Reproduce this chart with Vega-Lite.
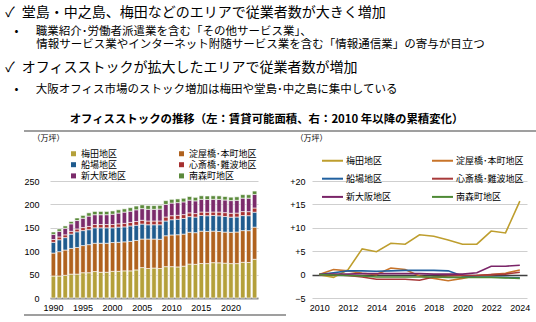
{
  "$schema": "https://vega.github.io/schema/vega-lite/v6.json",
  "background": "white",
  "padding": {"left": 5, "top": 5, "right": 0, "bottom": 0},
  "config": {
    "view": {"stroke": null},
    "font": "Noto Sans CJK JP",
    "axis": {"labelFont": "Liberation Sans", "labelFontSize": 9, "labelColor": "#000", "ticks": false, "domain": false, "gridColor": "#CFCFCF", "gridWidth": 1, "titleFont": "Noto Sans CJK JP", "titleColor": "#000"},
    "legend": {"labelFont": "Noto Sans CJK JP", "labelFontSize": 9, "labelColor": "#000", "padding": 0, "title": null},
    "title": {"font": "Noto Sans CJK JP", "color": "#000", "subtitleFont": "Noto Sans CJK JP", "subtitleColor": "#000", "fontWeight": "normal"}
  },
  "datasets": {
    "areas": [
      {"area":"梅田地区","rank":1},{"area":"淀屋橋･本町地区","rank":2},{"area":"船場地区","rank":3},{"area":"心斎橋･難波地区","rank":4},{"area":"新大阪地区","rank":5},{"area":"南森町地区","rank":6}
    ],
    "stock": [
      {"year":1990,"area":"梅田地区","value":47},{"year":1990,"area":"淀屋橋･本町地区","value":49},{"year":1990,"area":"船場地区","value":23},{"year":1990,"area":"心斎橋･難波地区","value":6},{"year":1990,"area":"新大阪地区","value":11},{"year":1990,"area":"南森町地区","value":5},
      {"year":1991,"area":"梅田地区","value":47},{"year":1991,"area":"淀屋橋･本町地区","value":52},{"year":1991,"area":"船場地区","value":25.5},{"year":1991,"area":"心斎橋･難波地区","value":6},{"year":1991,"area":"新大阪地区","value":12},{"year":1991,"area":"南森町地区","value":5},
      {"year":1992,"area":"梅田地区","value":48.5},{"year":1992,"area":"淀屋橋･本町地区","value":54},{"year":1992,"area":"船場地区","value":26.5},{"year":1992,"area":"心斎橋･難波地区","value":6},{"year":1992,"area":"新大阪地区","value":14},{"year":1992,"area":"南森町地区","value":5},
      {"year":1993,"area":"梅田地区","value":51},{"year":1993,"area":"淀屋橋･本町地区","value":55},{"year":1993,"area":"船場地区","value":30.5},{"year":1993,"area":"心斎橋･難波地区","value":6},{"year":1993,"area":"新大阪地区","value":16},{"year":1993,"area":"南森町地区","value":5},
      {"year":1994,"area":"梅田地区","value":51},{"year":1994,"area":"淀屋橋･本町地区","value":57},{"year":1994,"area":"船場地区","value":33.5},{"year":1994,"area":"心斎橋･難波地区","value":6},{"year":1994,"area":"新大阪地区","value":18},{"year":1994,"area":"南森町地区","value":5.5},
      {"year":1995,"area":"梅田地区","value":54},{"year":1995,"area":"淀屋橋･本町地区","value":58},{"year":1995,"area":"船場地区","value":32},{"year":1995,"area":"心斎橋･難波地区","value":6.5},{"year":1995,"area":"新大阪地区","value":20},{"year":1995,"area":"南森町地区","value":6},
      {"year":1996,"area":"梅田地区","value":54},{"year":1996,"area":"淀屋橋･本町地区","value":60},{"year":1996,"area":"船場地区","value":32},{"year":1996,"area":"心斎橋･難波地区","value":7},{"year":1996,"area":"新大阪地区","value":22},{"year":1996,"area":"南森町地区","value":7},
      {"year":1997,"area":"梅田地区","value":56.5},{"year":1997,"area":"淀屋橋･本町地区","value":60.5},{"year":1997,"area":"船場地区","value":33},{"year":1997,"area":"心斎橋･難波地区","value":7},{"year":1997,"area":"新大阪地区","value":21},{"year":1997,"area":"南森町地区","value":7},
      {"year":1998,"area":"梅田地区","value":55},{"year":1998,"area":"淀屋橋･本町地区","value":62},{"year":1998,"area":"船場地区","value":33},{"year":1998,"area":"心斎橋･難波地区","value":7},{"year":1998,"area":"新大阪地区","value":21},{"year":1998,"area":"南森町地区","value":7},
      {"year":1999,"area":"梅田地区","value":55},{"year":1999,"area":"淀屋橋･本町地区","value":62},{"year":1999,"area":"船場地区","value":33},{"year":1999,"area":"心斎橋･難波地区","value":7},{"year":1999,"area":"新大阪地区","value":21},{"year":1999,"area":"南森町地区","value":7},
      {"year":2000,"area":"梅田地区","value":57},{"year":2000,"area":"淀屋橋･本町地区","value":61.5},{"year":2000,"area":"船場地区","value":31.5},{"year":2000,"area":"心斎橋･難波地区","value":7},{"year":2000,"area":"新大阪地区","value":22},{"year":2000,"area":"南森町地区","value":7},
      {"year":2001,"area":"梅田地区","value":57},{"year":2001,"area":"淀屋橋･本町地区","value":62},{"year":2001,"area":"船場地区","value":32.5},{"year":2001,"area":"心斎橋･難波地区","value":7},{"year":2001,"area":"新大阪地区","value":23},{"year":2001,"area":"南森町地区","value":7},
      {"year":2002,"area":"梅田地区","value":58},{"year":2002,"area":"淀屋橋･本町地区","value":62},{"year":2002,"area":"船場地区","value":32},{"year":2002,"area":"心斎橋･難波地区","value":7.5},{"year":2002,"area":"新大阪地区","value":24},{"year":2002,"area":"南森町地区","value":7},
      {"year":2003,"area":"梅田地区","value":58},{"year":2003,"area":"淀屋橋･本町地区","value":63},{"year":2003,"area":"船場地区","value":33},{"year":2003,"area":"心斎橋･難波地区","value":7.5},{"year":2003,"area":"新大阪地区","value":24},{"year":2003,"area":"南森町地区","value":7.5},
      {"year":2004,"area":"梅田地区","value":60},{"year":2004,"area":"淀屋橋･本町地区","value":63},{"year":2004,"area":"船場地区","value":32.5},{"year":2004,"area":"心斎橋･難波地区","value":8},{"year":2004,"area":"新大阪地区","value":25},{"year":2004,"area":"南森町地区","value":8},
      {"year":2005,"area":"梅田地区","value":65},{"year":2005,"area":"淀屋橋･本町地区","value":61},{"year":2005,"area":"船場地区","value":32},{"year":2005,"area":"心斎橋･難波地区","value":8},{"year":2005,"area":"新大阪地区","value":25},{"year":2005,"area":"南森町地区","value":8},
      {"year":2006,"area":"梅田地区","value":63},{"year":2006,"area":"淀屋橋･本町地区","value":63},{"year":2006,"area":"船場地区","value":30.5},{"year":2006,"area":"心斎橋･難波地区","value":8},{"year":2006,"area":"新大阪地区","value":25},{"year":2006,"area":"南森町地区","value":8},
      {"year":2007,"area":"梅田地区","value":64},{"year":2007,"area":"淀屋橋･本町地区","value":62},{"year":2007,"area":"船場地区","value":30.5},{"year":2007,"area":"心斎橋･難波地区","value":8},{"year":2007,"area":"新大阪地区","value":25},{"year":2007,"area":"南森町地区","value":8},
      {"year":2008,"area":"梅田地区","value":63},{"year":2008,"area":"淀屋橋･本町地区","value":62.5},{"year":2008,"area":"船場地区","value":31},{"year":2008,"area":"心斎橋･難波地区","value":8},{"year":2008,"area":"新大阪地区","value":25.5},{"year":2008,"area":"南森町地区","value":8},
      {"year":2009,"area":"梅田地区","value":67},{"year":2009,"area":"淀屋橋･本町地区","value":66},{"year":2009,"area":"船場地区","value":31.5},{"year":2009,"area":"心斎橋･難波地区","value":8.5},{"year":2009,"area":"新大阪地区","value":27},{"year":2009,"area":"南森町地区","value":8},
      {"year":2010,"area":"梅田地区","value":67},{"year":2010,"area":"淀屋橋･本町地区","value":67.7},{"year":2010,"area":"船場地区","value":32.6},{"year":2010,"area":"心斎橋･難波地区","value":8.5},{"year":2010,"area":"新大阪地区","value":27},{"year":2010,"area":"南森町地区","value":8},
      {"year":2011,"area":"梅田地区","value":66.4},{"year":2011,"area":"淀屋橋･本町地区","value":68.8},{"year":2011,"area":"船場地区","value":33},{"year":2011,"area":"心斎橋･難波地区","value":8.5},{"year":2011,"area":"新大阪地区","value":27.1},{"year":2011,"area":"南森町地区","value":7.9},
      {"year":2012,"area":"梅田地区","value":68},{"year":2012,"area":"淀屋橋･本町地区","value":68.5},{"year":2012,"area":"船場地区","value":33.4},{"year":2012,"area":"心斎橋･難波地区","value":8.3},{"year":2012,"area":"新大阪地区","value":27.1},{"year":2012,"area":"南森町地区","value":7.8},
      {"year":2013,"area":"梅田地区","value":72.5},{"year":2013,"area":"淀屋橋･本町地区","value":68},{"year":2013,"area":"船場地区","value":33.4},{"year":2013,"area":"心斎橋･難波地区","value":8},{"year":2013,"area":"新大阪地区","value":27.2},{"year":2013,"area":"南森町地区","value":7.7},
      {"year":2014,"area":"梅田地区","value":71.9},{"year":2014,"area":"淀屋橋･本町地区","value":67.7},{"year":2014,"area":"船場地区","value":33.3},{"year":2014,"area":"心斎橋･難波地区","value":7.5},{"year":2014,"area":"新大阪地区","value":27.2},{"year":2014,"area":"南森町地区","value":7.5},
      {"year":2015,"area":"梅田地区","value":73.7},{"year":2015,"area":"淀屋橋･本町地区","value":69.1},{"year":2015,"area":"船場地区","value":33.4},{"year":2015,"area":"心斎橋･難波地区","value":7.5},{"year":2015,"area":"新大阪地区","value":27.2},{"year":2015,"area":"南森町地区","value":7.5},
      {"year":2016,"area":"梅田地区","value":73.5},{"year":2016,"area":"淀屋橋･本町地区","value":68.8},{"year":2016,"area":"船場地区","value":33.5},{"year":2016,"area":"心斎橋･難波地区","value":7.5},{"year":2016,"area":"新大阪地区","value":27.2},{"year":2016,"area":"南森町地区","value":7.5},
      {"year":2017,"area":"梅田地区","value":75.5},{"year":2017,"area":"淀屋橋･本町地区","value":67.4},{"year":2017,"area":"船場地区","value":33.5},{"year":2017,"area":"心斎橋･難波地区","value":7.3},{"year":2017,"area":"新大阪地区","value":27.2},{"year":2017,"area":"南森町地区","value":7.5},
      {"year":2018,"area":"梅田地区","value":75.2},{"year":2018,"area":"淀屋橋･本町地区","value":66.9},{"year":2018,"area":"船場地区","value":33.5},{"year":2018,"area":"心斎橋･難波地区","value":8},{"year":2018,"area":"新大阪地区","value":27.1},{"year":2018,"area":"南森町地区","value":7.5},
      {"year":2019,"area":"梅田地区","value":74.4},{"year":2019,"area":"淀屋橋･本町地区","value":66.4},{"year":2019,"area":"船場地区","value":33.4},{"year":2019,"area":"心斎橋･難波地区","value":8.2},{"year":2019,"area":"新大阪地区","value":27.1},{"year":2019,"area":"南森町地区","value":7.4},
      {"year":2020,"area":"梅田地区","value":73.5},{"year":2020,"area":"淀屋橋･本町地区","value":66.9},{"year":2020,"area":"船場地区","value":32.3},{"year":2020,"area":"心斎橋･難波地区","value":8.3},{"year":2020,"area":"新大阪地区","value":27.1},{"year":2020,"area":"南森町地区","value":7.4},
      {"year":2021,"area":"梅田地区","value":73.5},{"year":2021,"area":"淀屋橋･本町地区","value":67.5},{"year":2021,"area":"船場地区","value":32.1},{"year":2021,"area":"心斎橋･難波地区","value":8.3},{"year":2021,"area":"新大阪地区","value":27.4},{"year":2021,"area":"南森町地区","value":7.4},
      {"year":2022,"area":"梅田地区","value":76.3},{"year":2022,"area":"淀屋橋･本町地区","value":67.7},{"year":2022,"area":"船場地区","value":32.1},{"year":2022,"area":"心斎橋･難波地区","value":8.5},{"year":2022,"area":"新大阪地区","value":28.8},{"year":2022,"area":"南森町地区","value":7.4},
      {"year":2023,"area":"梅田地区","value":75.9},{"year":2023,"area":"淀屋橋･本町地区","value":68},{"year":2023,"area":"船場地区","value":32},{"year":2023,"area":"心斎橋･難波地区","value":8.6},{"year":2023,"area":"新大阪地区","value":28.8},{"year":2023,"area":"南森町地区","value":7.3},
      {"year":2024,"area":"梅田地区","value":82.7},{"year":2024,"area":"淀屋橋･本町地区","value":68.7},{"year":2024,"area":"船場地区","value":31.9},{"year":2024,"area":"心斎橋･難波地区","value":9},{"year":2024,"area":"新大阪地区","value":29},{"year":2024,"area":"南森町地区","value":7.2}
    ],
    "change": [
      {"year":2010,"area":"梅田地区","change":0},{"year":2010,"area":"淀屋橋･本町地区","change":0},{"year":2010,"area":"船場地区","change":0},{"year":2010,"area":"心斎橋･難波地区","change":0},{"year":2010,"area":"新大阪地区","change":0},{"year":2010,"area":"南森町地区","change":0},
      {"year":2011,"area":"梅田地区","change":-0.6},{"year":2011,"area":"淀屋橋･本町地区","change":1.1},{"year":2011,"area":"船場地区","change":0.4},{"year":2011,"area":"心斎橋･難波地区","change":0},{"year":2011,"area":"新大阪地区","change":0.1},{"year":2011,"area":"南森町地区","change":-0.1},
      {"year":2012,"area":"梅田地区","change":1},{"year":2012,"area":"淀屋橋･本町地区","change":0.8},{"year":2012,"area":"船場地区","change":0.8},{"year":2012,"area":"心斎橋･難波地区","change":-0.2},{"year":2012,"area":"新大阪地区","change":0.1},{"year":2012,"area":"南森町地区","change":-0.2},
      {"year":2013,"area":"梅田地区","change":5.5},{"year":2013,"area":"淀屋橋･本町地区","change":0.3},{"year":2013,"area":"船場地区","change":0.8},{"year":2013,"area":"心斎橋･難波地区","change":-0.5},{"year":2013,"area":"新大阪地区","change":0.2},{"year":2013,"area":"南森町地区","change":-0.3},
      {"year":2014,"area":"梅田地区","change":4.9},{"year":2014,"area":"淀屋橋･本町地区","change":0},{"year":2014,"area":"船場地区","change":0.7},{"year":2014,"area":"心斎橋･難波地区","change":-1},{"year":2014,"area":"新大阪地区","change":0.2},{"year":2014,"area":"南森町地区","change":-0.5},
      {"year":2015,"area":"梅田地区","change":6.7},{"year":2015,"area":"淀屋橋･本町地区","change":1.4},{"year":2015,"area":"船場地区","change":0.8},{"year":2015,"area":"心斎橋･難波地区","change":-1},{"year":2015,"area":"新大阪地区","change":0.2},{"year":2015,"area":"南森町地区","change":-0.5},
      {"year":2016,"area":"梅田地区","change":6.5},{"year":2016,"area":"淀屋橋･本町地区","change":1.1},{"year":2016,"area":"船場地区","change":0.9},{"year":2016,"area":"心斎橋･難波地区","change":-1},{"year":2016,"area":"新大阪地区","change":0.2},{"year":2016,"area":"南森町地区","change":-0.5},
      {"year":2017,"area":"梅田地区","change":8.5},{"year":2017,"area":"淀屋橋･本町地区","change":-0.3},{"year":2017,"area":"船場地区","change":0.9},{"year":2017,"area":"心斎橋･難波地区","change":-1.2},{"year":2017,"area":"新大阪地区","change":0.2},{"year":2017,"area":"南森町地区","change":-0.5},
      {"year":2018,"area":"梅田地区","change":8.2},{"year":2018,"area":"淀屋橋･本町地区","change":-0.8},{"year":2018,"area":"船場地区","change":0.9},{"year":2018,"area":"心斎橋･難波地区","change":-0.5},{"year":2018,"area":"新大阪地区","change":0.1},{"year":2018,"area":"南森町地区","change":-0.5},
      {"year":2019,"area":"梅田地区","change":7.4},{"year":2019,"area":"淀屋橋･本町地区","change":-1.3},{"year":2019,"area":"船場地区","change":0.8},{"year":2019,"area":"心斎橋･難波地区","change":-0.3},{"year":2019,"area":"新大阪地区","change":0.1},{"year":2019,"area":"南森町地区","change":-0.6},
      {"year":2020,"area":"梅田地区","change":6.5},{"year":2020,"area":"淀屋橋･本町地区","change":-0.8},{"year":2020,"area":"船場地区","change":-0.3},{"year":2020,"area":"心斎橋･難波地区","change":-0.2},{"year":2020,"area":"新大阪地区","change":0.1},{"year":2020,"area":"南森町地区","change":-0.6},
      {"year":2021,"area":"梅田地区","change":6.5},{"year":2021,"area":"淀屋橋･本町地区","change":-0.2},{"year":2021,"area":"船場地区","change":-0.5},{"year":2021,"area":"心斎橋･難波地区","change":-0.2},{"year":2021,"area":"新大阪地区","change":0.4},{"year":2021,"area":"南森町地区","change":-0.6},
      {"year":2022,"area":"梅田地区","change":9.3},{"year":2022,"area":"淀屋橋･本町地区","change":0},{"year":2022,"area":"船場地区","change":-0.5},{"year":2022,"area":"心斎橋･難波地区","change":0},{"year":2022,"area":"新大阪地区","change":1.8},{"year":2022,"area":"南森町地区","change":-0.6},
      {"year":2023,"area":"梅田地区","change":8.9},{"year":2023,"area":"淀屋橋･本町地区","change":0.3},{"year":2023,"area":"船場地区","change":-0.6},{"year":2023,"area":"心斎橋･難波地区","change":0.1},{"year":2023,"area":"新大阪地区","change":1.8},{"year":2023,"area":"南森町地区","change":-0.7},
      {"year":2024,"area":"梅田地区","change":15.7},{"year":2024,"area":"淀屋橋･本町地区","change":1},{"year":2024,"area":"船場地区","change":-0.7},{"year":2024,"area":"心斎橋･難波地区","change":0.5},{"year":2024,"area":"新大阪地区","change":2},{"year":2024,"area":"南森町地区","change":-0.8}
    ]
  },
  "title": {
    "text": "✓\u2002堂島・中之島、梅田などのエリアで従業者数が大きく増加",
    "subtitle": ["\u200b\u2002\u2005\u200a•\u2002\u2002\u2002職業紹介･労働者派遣業を含む「その他サービス業」、", "\u200b\u3000\u3000\u2002\u2009情報サービス業やインターネット附随サービス業を含む「情報通信業」の寄与が目立つ"],
    "anchor": "start", "frame": "bounds", "fontSize": 14, "subtitleFontSize": 11.5, "subtitlePadding": 6, "subtitleLineHeight": 13, "offset": 11
  },
  "spacing": 2,
  "vconcat": [
    {
      "title": {
        "text": "✓\u2002オフィスストックが拡大したエリアで従業者数が増加",
        "subtitle": "\u200b\u2002\u2005\u200a•\u2002\u2002\u2002大阪オフィス市場のストック増加は梅田や堂島･中之島に集中している",
        "anchor": "start", "frame": "bounds", "fontSize": 14, "subtitleFontSize": 11.5, "subtitlePadding": 9, "offset": 18, "dx": -18
      },
      "spacing": 2,
      "vconcat": [
        {
          "width": 487, "height": 1,
          "title": {"text": "オフィスストックの推移（左：賃貸可能面積、右：2010 年以降の累積変化）", "anchor": "middle", "frame": "group", "fontSize": 11.4, "fontWeight": "bold", "offset": 5, "dx": -27},
          "data": {"values": [{}]},
          "mark": {"type": "rule", "color": "#7F7F7F", "strokeWidth": 1.5},
          "encoding": {
            "x": {"datum": -0.0534, "type": "quantitative", "scale": {"domain": [0, 1], "nice": false, "zero": false}, "axis": null},
            "x2": {"datum": 1},
            "y": {"datum": 0, "type": "quantitative", "scale": {"domain": [0, 1]}, "axis": null}
          }
        },
        {
          "spacing": 31,
          "resolve": {"scale": {"color": "independent"}, "legend": {"color": "independent"}},
          "hconcat": [
            {
              "width": 208, "height": 117,
              "data": {"name": "stock"},
              "transform": [{"lookup": "area", "from": {"data": {"name": "areas"}, "key": "area", "fields": ["rank"]}}],
              "mark": {"type": "bar", "stroke": "#FFFFFF", "strokeWidth": 0.6},
              "encoding": {
                "x": {"field": "year", "type": "ordinal", "scale": {"paddingInner": 0.25, "paddingOuter": 0.2}, "axis": {"values": [1990,1995,2000,2005,2010,2015,2020], "labelAngle": 0, "title": null, "domain": true, "domainColor": "#8C8C8C", "domainWidth": 2, "labelPadding": 5}},
                "y": {"field": "value", "type": "quantitative", "stack": "zero", "scale": {"domain": [0, 250], "nice": false}, "axis": {"values": [0,50,100,150,200,250], "grid": true, "labelPadding": 11, "title": "（万坪）", "titleAngle": 0, "titleAlign": "left", "titleBaseline": "middle", "titleX": -18, "titleY": -43, "titleFontSize": 8, "titleFontWeight": "normal"}},
                "order": {"field": "rank", "type": "quantitative", "sort": "ascending"},
                "color": {"field": "area", "type": "nominal",
                  "scale": {"domain": ["梅田地区","淀屋橋･本町地区","船場地区","心斎橋･難波地区","新大阪地区","南森町地区"], "range": ["#B4A03A","#B0621E","#1F5B8E","#A63030","#7B2B6B","#5B8A3B"]},
                  "legend": {"orient": "none", "direction": "horizontal", "legendX": 19, "legendY": -32, "columns": 2, "columnPadding": 50, "rowPadding": 1.2, "symbolType": "square", "symbolSize": 25, "symbolStrokeWidth": 0, "labelOffset": 3}}
              }
            },
            {
              "width": 215, "height": 117,
              "data": {"name": "change"},
              "mark": {"type": "line", "strokeWidth": 1.6},
              "encoding": {
                "x": {"field": "year", "type": "quantitative", "scale": {"domain": [2009.5, 2024.5], "nice": false, "zero": false}, "axis": {"values": [2010,2012,2014,2016,2018,2020,2022,2024], "format": "d", "title": null, "labelPadding": 5, "grid": false, "labelFlush": false}},
                "y": {"field": "change", "type": "quantitative", "scale": {"domain": [-5, 20], "nice": false, "zero": false}, "axis": {"values": [-5,0,5,10,15,20], "labelExpr": "datum.value > 0 ? '+' + datum.label : datum.label", "grid": true, "gridColor": {"condition": {"test": "datum.value === 0", "value": "#404040"}, "value": "#CFCFCF"}, "gridWidth": {"condition": {"test": "datum.value === 0", "value": 1.3}, "value": 1}, "labelPadding": 7, "title": "（万坪）", "titleAngle": 0, "titleAlign": "left", "titleBaseline": "middle", "titleX": -17, "titleY": -43, "titleFontSize": 8, "titleFontWeight": "normal"}},
                "color": {"field": "area", "type": "nominal",
                  "scale": {"domain": ["梅田地区","淀屋橋･本町地区","船場地区","心斎橋･難波地区","新大阪地区","南森町地区"], "range": ["#BE9E2E","#C8742A","#2161A0","#A83A3A","#7A2468","#4E8A35"]},
                  "legend": {"orient": "none", "direction": "horizontal", "legendX": 9, "legendY": -32, "columns": 2, "columnPadding": 36, "rowPadding": 1.2, "symbolType": "stroke", "symbolSize": 441, "symbolStrokeWidth": 2, "labelOffset": 2}}
              }
            }
          ]
        }
      ]
    },
    {
      "width": 236, "height": 1,
      "data": {"values": [{}]},
      "mark": {"type": "rule", "color": "#7F7F7F", "strokeWidth": 1.5},
      "encoding": {
        "x": {"datum": -0.1102, "type": "quantitative", "scale": {"domain": [0, 1], "nice": false, "zero": false}, "axis": null},
        "x2": {"datum": 1},
        "y": {"datum": 1, "type": "quantitative", "scale": {"domain": [0, 1]}, "axis": null}
      }
    }
  ]
}
